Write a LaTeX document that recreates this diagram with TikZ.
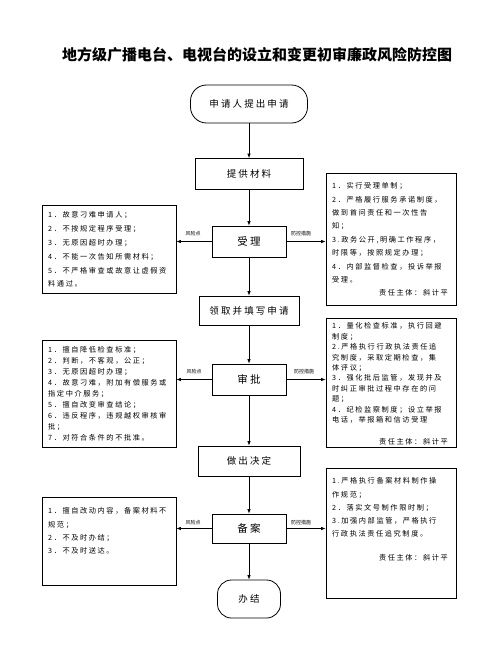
\documentclass[tikz,border=0pt]{standalone}
\usepackage{fontspec}
\setmainfont{Noto Sans CJK SC}
\newfontfamily\cjksp{Noto Sans CJK SC}[LetterSpace=22]
\newfontfamily\cjkmid{Noto Sans CJK SC}[LetterSpace=22]
\usetikzlibrary{arrows.meta}
\begin{document}
\begin{tikzpicture}[x=1pt,y=-1pt,
  mainbox/.style={draw, line width=0.8pt, inner sep=0pt, font=\cjkmid\fontsize{9.5}{11}\selectfont},
  term/.style={mainbox, rounded corners=16pt},
  sidebox/.style={draw, line width=0.8pt, inner sep=0pt},
  sidetext/.style={anchor=north west, inner sep=0pt, align=left},
  resp/.style={anchor=east, inner sep=0pt, font=\cjksp\fontsize{7.2}{8}\selectfont},
  arr/.style={-{Latex[length=4.5pt,width=3.5pt]}, line width=0.7pt},
  lbl/.style={font=\fontsize{5}{5}\selectfont, inner sep=0pt}]
\useasboundingbox (0,0) rectangle (487,655);

\node[font=\bfseries\fontsize{15}{15}\selectfont, inner sep=0pt] (title) at (257,55) {地方级广播电台、电视台的设立和变更初审廉政风险防控图};

% main spine
\node[term, minimum width=117pt, minimum height=38pt] (start) at (249,104) {申请人提出申请};
\node[mainbox, minimum width=108pt, minimum height=31pt] (tigong) at (249,174) {提供材料};
\node[mainbox, minimum width=74pt, minimum height=31pt, font=\cjkmid\fontsize{10.5}{12}\selectfont] (shouli) at (249,241.5) {受理};
\node[mainbox, minimum width=100pt, minimum height=29pt] (lingqu) at (249,310.5) {领取并填写申请};
\node[mainbox, minimum width=74pt, minimum height=31pt, font=\cjkmid\fontsize{10.5}{12}\selectfont] (shenpi) at (249,379.5) {审批};
\node[mainbox, minimum width=102pt, minimum height=30pt] (zuochu) at (249,461) {做出决定};
\node[mainbox, minimum width=74pt, minimum height=29pt, font=\cjkmid\fontsize{10.5}{12}\selectfont] (beian) at (249,528.5) {备案};
\node[term, minimum width=63pt, minimum height=38pt, rounded corners=14pt] (banjie) at (249,599) {办结};

\draw[arr] (start) -- (tigong);
\draw[arr] (tigong) -- (shouli);
\draw[arr] (shouli) -- (lingqu);
\draw[arr] (lingqu) -- (shenpi);
\draw[arr] (shenpi) -- (zuochu);
\draw[arr] (zuochu) -- (beian);
\draw[arr] (beian) -- (banjie);

% side boxes
\node[sidebox, minimum width=134pt, minimum height=88pt] (lb1) at (109,249) {};
\node[sidebox, minimum width=130pt, minimum height=132pt] (rb1) at (391,239) {};
\node[sidebox, minimum width=134pt, minimum height=107pt] (lb2) at (109,393.5) {};
\node[sidebox, minimum width=130pt, minimum height=129pt] (rb2) at (391,382.5) {};
\node[sidebox, minimum width=134pt, minimum height=88pt] (lb3) at (109,541) {};
\node[sidebox, minimum width=130pt, minimum height=130pt] (rb3) at (391,533) {};

% side arrows
\draw[arr] (shouli.west) -- (shouli.west -| lb1.east);
\draw[arr] (shouli.east) -- (shouli.east -| rb1.west);
\draw[arr] (shenpi.west) -- (shenpi.west -| lb2.east);
\draw[arr] (shenpi.east) -- (shenpi.east -| rb2.west);
\draw[arr] (beian.west) -- (beian.west -| lb3.east);
\draw[arr] (beian.east) -- (beian.east -| rb3.west);

\node[lbl] (l1) at (193,234) {风险点};
\node[lbl] (r1) at (301,234) {防控措施};
\node[lbl] (l2) at (194,372) {风险点};
\node[lbl] (r2) at (304,372) {防控措施};
\node[lbl] (l3) at (193,523) {风险点};
\node[lbl] (r3) at (301,523) {防控措施};

% texts
\node[sidetext, font=\cjksp\fontsize{7.2}{13.8}\selectfont] (lb1t) at (48,211.5) {1．故意刁难申请人；\\2．不按规定程序受理；\\3．无原因超时办理；\\4．不能一次告知所需材料；\\5．不严格审查或故意让虚假资\\料通过。};
\node[sidetext, font=\cjksp\fontsize{7.2}{13.4}\selectfont] (rb1t) at (332,182.5) {1．实行受理单制；\\2．严格履行服务承诺制度，\\做到首问责任和一次性告\\知；\\3.政务公开,明确工作程序，\\时限等，按照规定办理；\\4．内部监督检查，投诉举报\\受理。};
\node[resp] (rb1r) at (448,293) {责任主体：斜计平};

\node[sidetext, font=\cjksp\fontsize{7.2}{11}\selectfont] (lb2t) at (48,346.5) {1．擅自降低检查标准；\\2．判断，不客观，公正；\\3．无原因超时办理；\\4．故意刁难，附加有偿服务或\\指定中介服务；\\5．擅自改变审查结论；\\6．违反程序，违规越权审核审\\批；\\7．对符合条件的不批准。};
\node[sidetext, font=\cjksp\fontsize{7.2}{10.4}\selectfont] (rb2t) at (332,322.5) {1．量化检查标准，执行回避\\制度；\\2.严格执行行政执法责任追\\究制度，采取定期检查，集\\体评议；\\3．强化批后监管，发现并及\\时纠正审批过程中存在的问\\题；\\4．纪检监察制度；设立举报\\电话，举报箱和信访受理};
\node[resp] (rb2r) at (448,442) {责任主体：斜计平};

\node[sidetext, font=\cjksp\fontsize{7.2}{13.3}\selectfont] (lb3t) at (48,507.5) {1．擅自改动内容，备案材料不\\规范；\\2．不及时办结；\\3．不及时送达。};
\node[sidetext, font=\cjksp\fontsize{7.2}{13.3}\selectfont] (rb3t) at (332,477.5) {1.严格执行备案材料制作操\\作规范；\\2．落实文号制作限时制；\\3.加强内部监管，严格执行\\行政执法责任追究制度。};
\node[resp] (rb3r) at (448,558) {责任主体：斜计平};
\end{tikzpicture}
\end{document}
